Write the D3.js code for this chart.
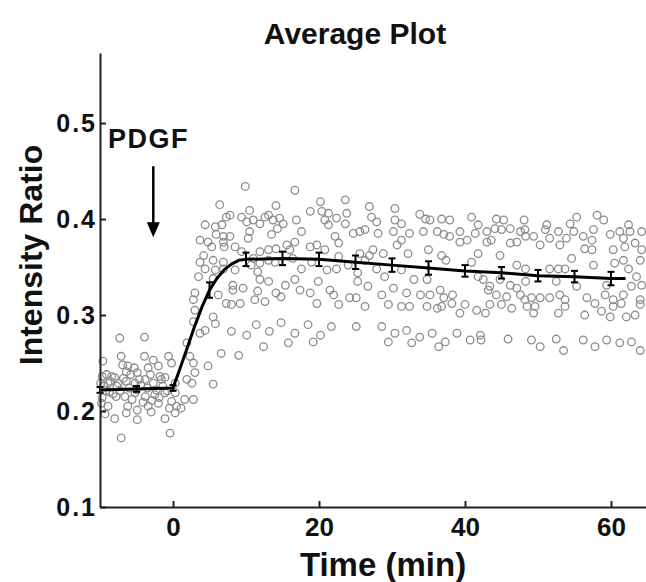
<!DOCTYPE html>
<html>
<head>
<meta charset="utf-8">
<script src="https://cdn.jsdelivr.net/npm/d3@7"></script>
<style>
  html, body { margin: 0; padding: 0; background: #fff; }
  svg { display: block; }
  text { font-family: "Liberation Sans", Arial, Helvetica, sans-serif; font-weight: bold; fill: #111; }
</style>
</head>
<body>
<div id="chart"></div>
<script>
// ---------------- data ----------------
const chartTitle = "Average Plot";
const xLabel = "Time (min)";
const yLabel = "Intensity Ratio";
const timeTicks = [0, 20, 40, 60];
const ratioTicks = [0.1, 0.2, 0.3, 0.4, 0.5];

// mean trace
const meanTime  = [-10, -5, 0, 1, 2, 3, 4, 5, 6, 7, 8, 9, 10, 15, 20, 25, 30, 35, 40, 45, 50, 55, 60, 62];
const meanRatio = [0.222, 0.223, 0.224, 0.245, 0.267, 0.289, 0.309, 0.326, 0.338, 0.347, 0.353, 0.357, 0.358,
                   0.359, 0.358, 0.355, 0.352, 0.349, 0.346, 0.344, 0.341, 0.340, 0.338, 0.338];

// error bars (every 5 min)
const errTime = [-10, -5, 0, 5, 10, 15, 20, 25, 30, 35, 40, 45, 50, 55, 60];
const errMean = [0.222, 0.223, 0.224, 0.326, 0.358, 0.359, 0.358, 0.355, 0.352, 0.349, 0.346, 0.344, 0.341, 0.340, 0.338];
const errHalf = [0.003, 0.003, 0.003, 0.008, 0.007, 0.007, 0.007, 0.007, 0.007, 0.007, 0.006, 0.006, 0.006, 0.006, 0.007];

// stimulus annotation
const stimLabel = "PDGF";
const stimTime = -2.7;
const stimFrom = 0.455, stimTo = 0.381;

// individual cell measurements [time, ratio]
const cellPoints = [
 [-7.3,0.276],[-3.9,0.277],[-7.1,0.257],[-3.9,0.257],[-2.7,0.253],[-0.6,0.257],[-0.2,0.250],[-9.6,0.252],
 [-6.9,0.248],[-6.2,0.247],[-3.4,0.245],[-2.0,0.247],[-9.1,0.238],[-8.4,0.236],[-8.0,0.235],[-5.8,0.238],
 [-4.9,0.240],[-1.8,0.236],[-1.1,0.235],[-9.9,0.229],[-8.9,0.229],[-7.5,0.229],[-6.4,0.231],[-5.2,0.229],
 [-3.8,0.233],[-2.7,0.229],[-1.6,0.233],[-8.7,0.220],[-7.8,0.215],[-6.6,0.215],[-5.2,0.219],[-3.8,0.215],
 [-2.5,0.217],[-1.1,0.219],[0.3,0.219],[1.6,0.212],[2.8,0.212],[-9.8,0.208],[-8.9,0.205],[-6.2,0.205],
 [-4.9,0.201],[-3.4,0.205],[-2.0,0.208],[-0.2,0.210],[-8.0,0.192],[-6.4,0.198],[-4.9,0.191],[-3.0,0.199],
 [-1.1,0.192],[0.3,0.198],[-7.1,0.172],[-0.4,0.177],
 [-9.5,0.226],[-9.2,0.221],[-8.6,0.231],[-8.2,0.218],[-7.7,0.226],[-7.2,0.221],[-6.8,0.234],[-6.0,0.224],
 [-5.6,0.212],[-5.0,0.222],[-4.4,0.227],[-4.1,0.209],[-3.5,0.224],[-3.1,0.238],[-2.3,0.222],[-1.9,0.214],
 [-1.4,0.226],[-0.8,0.221],[-0.5,0.203],[-9.7,0.236],[-9.7,0.214],[-6.4,0.241],[-4.6,0.233],[-2.9,0.211],
 [0.5,0.205],[1.1,0.203],[-5.3,0.245],[-9.3,0.197],
 [3.0,0.240],[5.5,0.228],[2.6,0.229],[1.9,0.233],[0.3,0.229],
 [9.9,0.434],[16.7,0.430],[6.4,0.415],[14.1,0.414],[10.5,0.409],[4.4,0.394],[5.8,0.392],[6.7,0.394],
 [7.3,0.402],[7.8,0.404],[9.4,0.402],[10.1,0.397],[11.0,0.399],[12.6,0.402],[13.1,0.404],[13.7,0.399],
 [14.6,0.401],[15.1,0.395],[16.9,0.399],[11.9,0.395],[14.3,0.390],[5.9,0.384],[6.9,0.382],[10.5,0.387],
 [10.3,0.380],[3.7,0.378],[4.8,0.376],[6.9,0.376],[7.8,0.382],[13.5,0.384],[5.3,0.371],[7.0,0.371],
 [8.5,0.371],[15.6,0.373],[16.7,0.376],[4.2,0.362],[9.4,0.366],[11.9,0.366],[13.1,0.368],[14.1,0.369],
 [16.0,0.368],[3.7,0.355],[5.5,0.357],[6.9,0.355],[11.0,0.359],[11.9,0.354],[13.1,0.357],[14.0,0.355],
 [16.4,0.359],[4.4,0.348],[5.8,0.347],[6.9,0.348],[8.5,0.347],[10.7,0.352],[11.6,0.345],[3.5,0.340],
 [5.5,0.338],[11.9,0.337],[13.1,0.335],[15.4,0.331],[16.7,0.337],[8.2,0.331],[9.6,0.328],[3.0,0.323],
 [6.2,0.321],[8.2,0.326],[11.6,0.325],[14.1,0.323],[14.8,0.319],[2.8,0.316],[7.3,0.312],[8.0,0.311],
 [9.2,0.312],[11.2,0.316],[12.6,0.314],[3.0,0.305],[5.5,0.298],[2.8,0.293],[5.8,0.291],[11.4,0.290],
 [14.8,0.292],[4.4,0.284],[3.7,0.281],[8.0,0.283],[10.1,0.279],[13.2,0.283],[16.7,0.281],[15.8,0.271],
 [1.9,0.271],[12.4,0.267],[6.6,0.260],[9.0,0.258],[2.3,0.257],[2.8,0.250],[4.8,0.247],
 [23.6,0.420],[20.2,0.418],[26.9,0.413],[30.4,0.411],[18.8,0.408],[20.4,0.408],[21.3,0.406],[23.8,0.406],
 [20.8,0.399],[22.4,0.401],[27.2,0.402],[27.9,0.397],[30.4,0.399],[31.3,0.395],[21.3,0.394],[23.6,0.395],
 [24.7,0.385],[25.6,0.387],[26.3,0.389],[28.1,0.385],[30.2,0.387],[17.6,0.387],[32.4,0.385],[22.2,0.382],
 [31.3,0.378],[22.7,0.375],[30.7,0.373],[18.8,0.371],[19.7,0.373],[20.8,0.368],[27.4,0.368],[25.6,0.364],
 [26.9,0.362],[28.8,0.364],[32.2,0.364],[19.0,0.355],[22.7,0.361],[26.3,0.357],[17.6,0.348],[21.1,0.347],
 [22.4,0.348],[24.0,0.352],[27.9,0.348],[31.3,0.347],[25.3,0.344],[29.0,0.340],[19.9,0.335],[25.3,0.335],
 [17.4,0.326],[18.8,0.323],[21.5,0.326],[22.0,0.321],[26.7,0.330],[30.2,0.328],[32.0,0.323],[24.2,0.318],
 [25.1,0.318],[28.6,0.321],[19.7,0.312],[22.7,0.311],[26.3,0.309],[29.5,0.311],[31.3,0.309],[32.4,0.309],
 [18.5,0.290],[21.7,0.288],[25.1,0.288],[28.6,0.288],[32.0,0.284],[20.2,0.279],[30.4,0.281],[19.2,0.272],
 [29.5,0.272],[32.7,0.271],
 [33.8,0.405],[34.6,0.400],[35.2,0.399],[36.8,0.400],[37.9,0.399],[40.9,0.402],[44.3,0.400],[45.3,0.399],
 [48.1,0.399],[41.8,0.394],[34.3,0.387],[36.2,0.387],[37.1,0.384],[37.9,0.382],[39.3,0.387],[41.4,0.385],
 [43.0,0.387],[44.1,0.390],[45.0,0.389],[46.2,0.390],[47.6,0.387],[48.3,0.382],[39.3,0.376],[40.3,0.378],
 [43.0,0.376],[43.6,0.378],[46.2,0.375],[47.1,0.376],[35.0,0.368],[41.8,0.364],[44.8,0.362],[36.8,0.362],
 [37.4,0.357],[40.9,0.355],[47.1,0.352],[48.3,0.348],[33.0,0.337],[34.8,0.337],[41.8,0.340],[42.5,0.337],
 [43.4,0.330],[44.8,0.337],[46.2,0.331],[47.1,0.328],[48.3,0.335],[36.6,0.326],[38.3,0.321],[43.2,0.326],
 [33.9,0.321],[35.2,0.321],[37.1,0.318],[44.3,0.321],[45.7,0.319],[47.6,0.321],[34.8,0.309],[36.2,0.307],
 [36.8,0.309],[38.2,0.312],[40.0,0.311],[41.6,0.305],[43.4,0.311],[45.0,0.311],[46.4,0.307],[48.5,0.309],
 [39.3,0.302],[42.8,0.302],[33.8,0.277],[35.5,0.281],[38.9,0.281],[42.1,0.279],[45.9,0.275],[36.4,0.267],
 [37.3,0.272],[40.7,0.274],[42.2,0.274],
 [55.3,0.402],[58.1,0.404],[59.0,0.399],[51.2,0.394],[54.4,0.395],[62.4,0.394],[48.2,0.389],[51.0,0.389],
 [52.8,0.387],[54.9,0.387],[57.6,0.389],[61.2,0.387],[62.6,0.387],[64.2,0.387],[49.4,0.382],[51.6,0.380],
 [53.9,0.380],[56.2,0.382],[57.4,0.378],[59.9,0.384],[61.7,0.380],[50.3,0.373],[53.0,0.373],[56.4,0.369],
 [57.4,0.368],[60.3,0.368],[61.9,0.371],[63.3,0.375],[64.2,0.368],[54.6,0.359],[57.6,0.352],[60.5,0.354],
 [61.7,0.357],[64.0,0.357],[51.6,0.348],[52.8,0.348],[53.7,0.348],[62.4,0.348],[52.5,0.335],[55.3,0.330],
 [59.4,0.331],[63.5,0.340],[62.8,0.330],[64.2,0.331],[48.2,0.316],[49.1,0.318],[50.3,0.318],[51.6,0.318],
 [53.0,0.321],[53.7,0.316],[56.7,0.318],[59.2,0.321],[60.3,0.316],[61.7,0.321],[64.0,0.316],[49.6,0.309],
 [53.7,0.309],[57.8,0.312],[60.3,0.309],[61.4,0.312],[64.0,0.311],[49.4,0.302],[52.8,0.302],[56.4,0.300],
 [58.7,0.304],[59.9,0.298],[62.1,0.298],[63.3,0.300],[49.1,0.274],[50.3,0.267],[52.5,0.275],[53.5,0.263],
 [56.2,0.274],[57.8,0.267],[59.4,0.274],[61.2,0.271],[62.8,0.272],[64.0,0.263]
];

// ---------------- chart ----------------
const W = 646, H = 582;
const svg = d3.select("#chart").append("svg").attr("width", W).attr("height", H);

const x = d3.scaleLinear().domain([-10, 65]).range([100, 647.5]);
const y = d3.scaleLinear().domain([0.1, 0.573]).range([507, 53]);

// scatter
svg.append("g")
  .selectAll("circle")
  .data(cellPoints)
  .join("circle")
  .attr("cx", d => x(d[0]))
  .attr("cy", d => y(d[1]))
  .attr("r", 3.8)
  .attr("fill", "none")
  .attr("stroke", "#8c8c8c")
  .attr("stroke-width", 1.3);

// mean line
const meanData = meanTime.map((t, i) => [t, meanRatio[i]]);
svg.append("path")
  .datum(meanData)
  .attr("fill", "none")
  .attr("stroke", "#000")
  .attr("stroke-width", 3)
  .attr("stroke-linejoin", "round")
  .attr("d", d3.line().x(d => x(d[0])).y(d => y(d[1])));

// error bars
const errData = errTime.map((t, i) => ({t, m: errMean[i], e: errHalf[i]}));
const eb = svg.append("g").attr("stroke", "#000").attr("stroke-width", 2);
const capW = 3.5;
eb.selectAll(".v").data(errData).join("line")
  .attr("x1", d => x(d.t)).attr("x2", d => x(d.t))
  .attr("y1", d => y(d.m - d.e)).attr("y2", d => y(d.m + d.e));
eb.selectAll(".top").data(errData).join("line")
  .attr("x1", d => x(d.t) - capW).attr("x2", d => x(d.t) + capW)
  .attr("y1", d => y(d.m + d.e)).attr("y2", d => y(d.m + d.e));
eb.selectAll(".bot").data(errData).join("line")
  .attr("x1", d => x(d.t) - capW).attr("x2", d => x(d.t) + capW)
  .attr("y1", d => y(d.m - d.e)).attr("y2", d => y(d.m - d.e));

// axes
const xAxis = d3.axisBottom(x).tickValues(timeTicks).tickFormat(d3.format("d"))
  .tickSizeInner(-6).tickSizeOuter(0).tickPadding(11);
const yAxis = d3.axisLeft(y).tickValues(ratioTicks).tickFormat(d3.format(".1f"))
  .tickSizeInner(-6).tickSizeOuter(0).tickPadding(3);

const gx = svg.append("g").attr("transform", `translate(0,${y(0.1)})`).call(xAxis);
const gy = svg.append("g").attr("transform", `translate(${x(-10)},0)`).call(yAxis);
[gx, gy].forEach(g => {
  g.select(".domain").attr("stroke", "#222").attr("stroke-width", 2);
  g.selectAll(".tick line").attr("stroke", "#222").attr("stroke-width", 2);
  g.selectAll(".tick text").attr("fill", "#111")
    .style("font-family", '"Liberation Sans", Arial, sans-serif').style("font-weight", "bold");
});
gx.selectAll(".tick text").style("font-size", "26px");
gy.selectAll(".tick text").style("font-size", "25px").style("letter-spacing", "2px");

// title & labels
svg.append("text").attr("x", 355).attr("y", 44).attr("text-anchor", "middle")
  .style("font-size", "30px").text(chartTitle);
svg.append("text").attr("x", 383).attr("y", 576).attr("text-anchor", "middle")
  .style("font-size", "33px").text(xLabel);
svg.append("text").attr("transform", "translate(42,255) rotate(-90)").attr("text-anchor", "middle")
  .style("font-size", "32px").text(yLabel);

// stimulus annotation
svg.append("text").attr("x", 108).attr("y", 148)
  .style("font-size", "27px").style("letter-spacing", "1.5px").text(stimLabel);
const ax = x(stimTime);
svg.append("line").attr("x1", ax).attr("x2", ax).attr("y1", y(stimFrom)).attr("y2", y(stimTo) - 12)
  .attr("stroke", "#000").attr("stroke-width", 2.5);
svg.append("path")
  .attr("d", `M${ax - 6.5},${y(stimTo) - 15} L${ax + 6.5},${y(stimTo) - 15} L${ax},${y(stimTo)} Z`)
  .attr("fill", "#000");
</script>
</body>
</html>
